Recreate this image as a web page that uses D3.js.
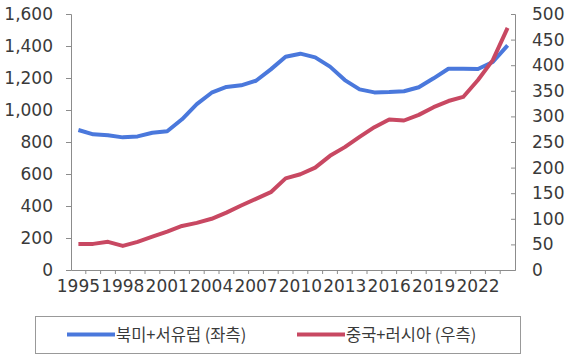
<!DOCTYPE html>
<html><head><meta charset="utf-8">
<script src="https://cdn.jsdelivr.net/npm/d3@7"></script>
<style>
body{margin:0;background:#fff;}
svg{display:block;}
</style></head>
<body>
<svg id="chart" width="570" height="358"></svg>
<script>
const years = d3.range(1995, 2025).map(String);
const westValues = [875, 848, 842, 829, 835, 858, 867, 942, 1037, 1108, 1144, 1154, 1183, 1254, 1333, 1352, 1329, 1271, 1187, 1129, 1110, 1112, 1117, 1142, 1198, 1258, 1258, 1256, 1300, 1404];
const eastValues = [51, 51, 55, 47, 55, 65, 75, 86, 92, 100, 112, 126, 139, 152, 179, 187, 200, 223, 240, 260, 279, 294, 292, 303, 318, 330, 338, 371, 410, 473];
const leftTicks = [0, 200, 400, 600, 800, 1000, 1200, 1400, 1600];
const rightTicks = [0, 50, 100, 150, 200, 250, 300, 350, 400, 450, 500];
const seriesNames = ["북미+서유럽 (좌측)", "중국+러시아 (우측)"];
const seriesColors = ["#4a78dc", "#c84862"];

const svg = d3.select("#chart");
const m = {left: 71, right: 515, top: 14, bottom: 270};
const x = d3.scaleBand().domain(years).range([m.left, m.right]);
const yL = d3.scaleLinear().domain([0, 1600]).range([m.bottom, m.top]);
const yR = d3.scaleLinear().domain([0, 500]).range([m.bottom, m.top]);
const font = "'DejaVu Sans', sans-serif";
const axisColor = "#8c8c8c";
const textColor = "#3a3a3a";

const gL = svg.append("g").attr("transform", `translate(${m.left},0)`)
  .call(d3.axisLeft(yL).tickValues(leftTicks).tickFormat(d3.format(",")).tickSizeOuter(0).tickSize(5).tickPadding(13));
const gR = svg.append("g").attr("transform", `translate(${m.right},0)`)
  .call(d3.axisRight(yR).tickValues(rightTicks).tickSizeOuter(0).tickSize(-4).tickPadding(17));
const gX = svg.append("g").attr("transform", `translate(0,${m.bottom})`)
  .call(d3.axisBottom(x).tickValues(years.filter((d,i)=>i%3===0)).tickSize(0).tickPadding(10));
svg.append("g").selectAll("line").data(years.slice(1)).join("line")
  .attr("x1", d=>x(d)).attr("x2", d=>x(d))
  .attr("y1", m.bottom).attr("y2", m.bottom+4)
  .attr("stroke", axisColor).attr("stroke-width", 1);

[gL, gR, gX].forEach(g => {
  g.selectAll("path.domain").attr("stroke", axisColor);
  g.selectAll(".tick line").attr("stroke", axisColor);
  g.selectAll("text").attr("fill", textColor).style("font-family", font).style("font-size", "17px");
});
gX.selectAll("text").attr("dy", "0.71em");

const lineL = d3.line().x((d,i)=>x(years[i]) + x.bandwidth()/2).y(d=>yL(d));
const lineR = d3.line().x((d,i)=>x(years[i]) + x.bandwidth()/2).y(d=>yR(d));
svg.append("path").datum(westValues).attr("d", lineL).attr("fill","none")
  .attr("stroke", seriesColors[0]).attr("stroke-width", 4).attr("stroke-linejoin","round");
svg.append("path").datum(eastValues).attr("d", lineR).attr("fill","none")
  .attr("stroke", seriesColors[1]).attr("stroke-width", 4).attr("stroke-linejoin","round");

const lg = svg.append("g");
lg.append("rect").attr("x", 35.5).attr("y", 316.5).attr("width", 485).attr("height", 37)
  .attr("fill", "#fff").attr("stroke", "#999");
const legendX = [67, 297];
seriesNames.forEach((name, i) => {
  lg.append("line").attr("x1", legendX[i]).attr("x2", legendX[i]+48)
    .attr("y1", 334.5).attr("y2", 334.5).attr("stroke", seriesColors[i]).attr("stroke-width", 4);
  lg.append("text").attr("x", legendX[i]+49).attr("y", 335).attr("dy", "0.35em")
    .attr("fill", textColor).style("font-family", "'Noto Sans CJK KR', sans-serif")
    .style("font-size", "16.5px").text(name);
});
</script>
</body></html>
